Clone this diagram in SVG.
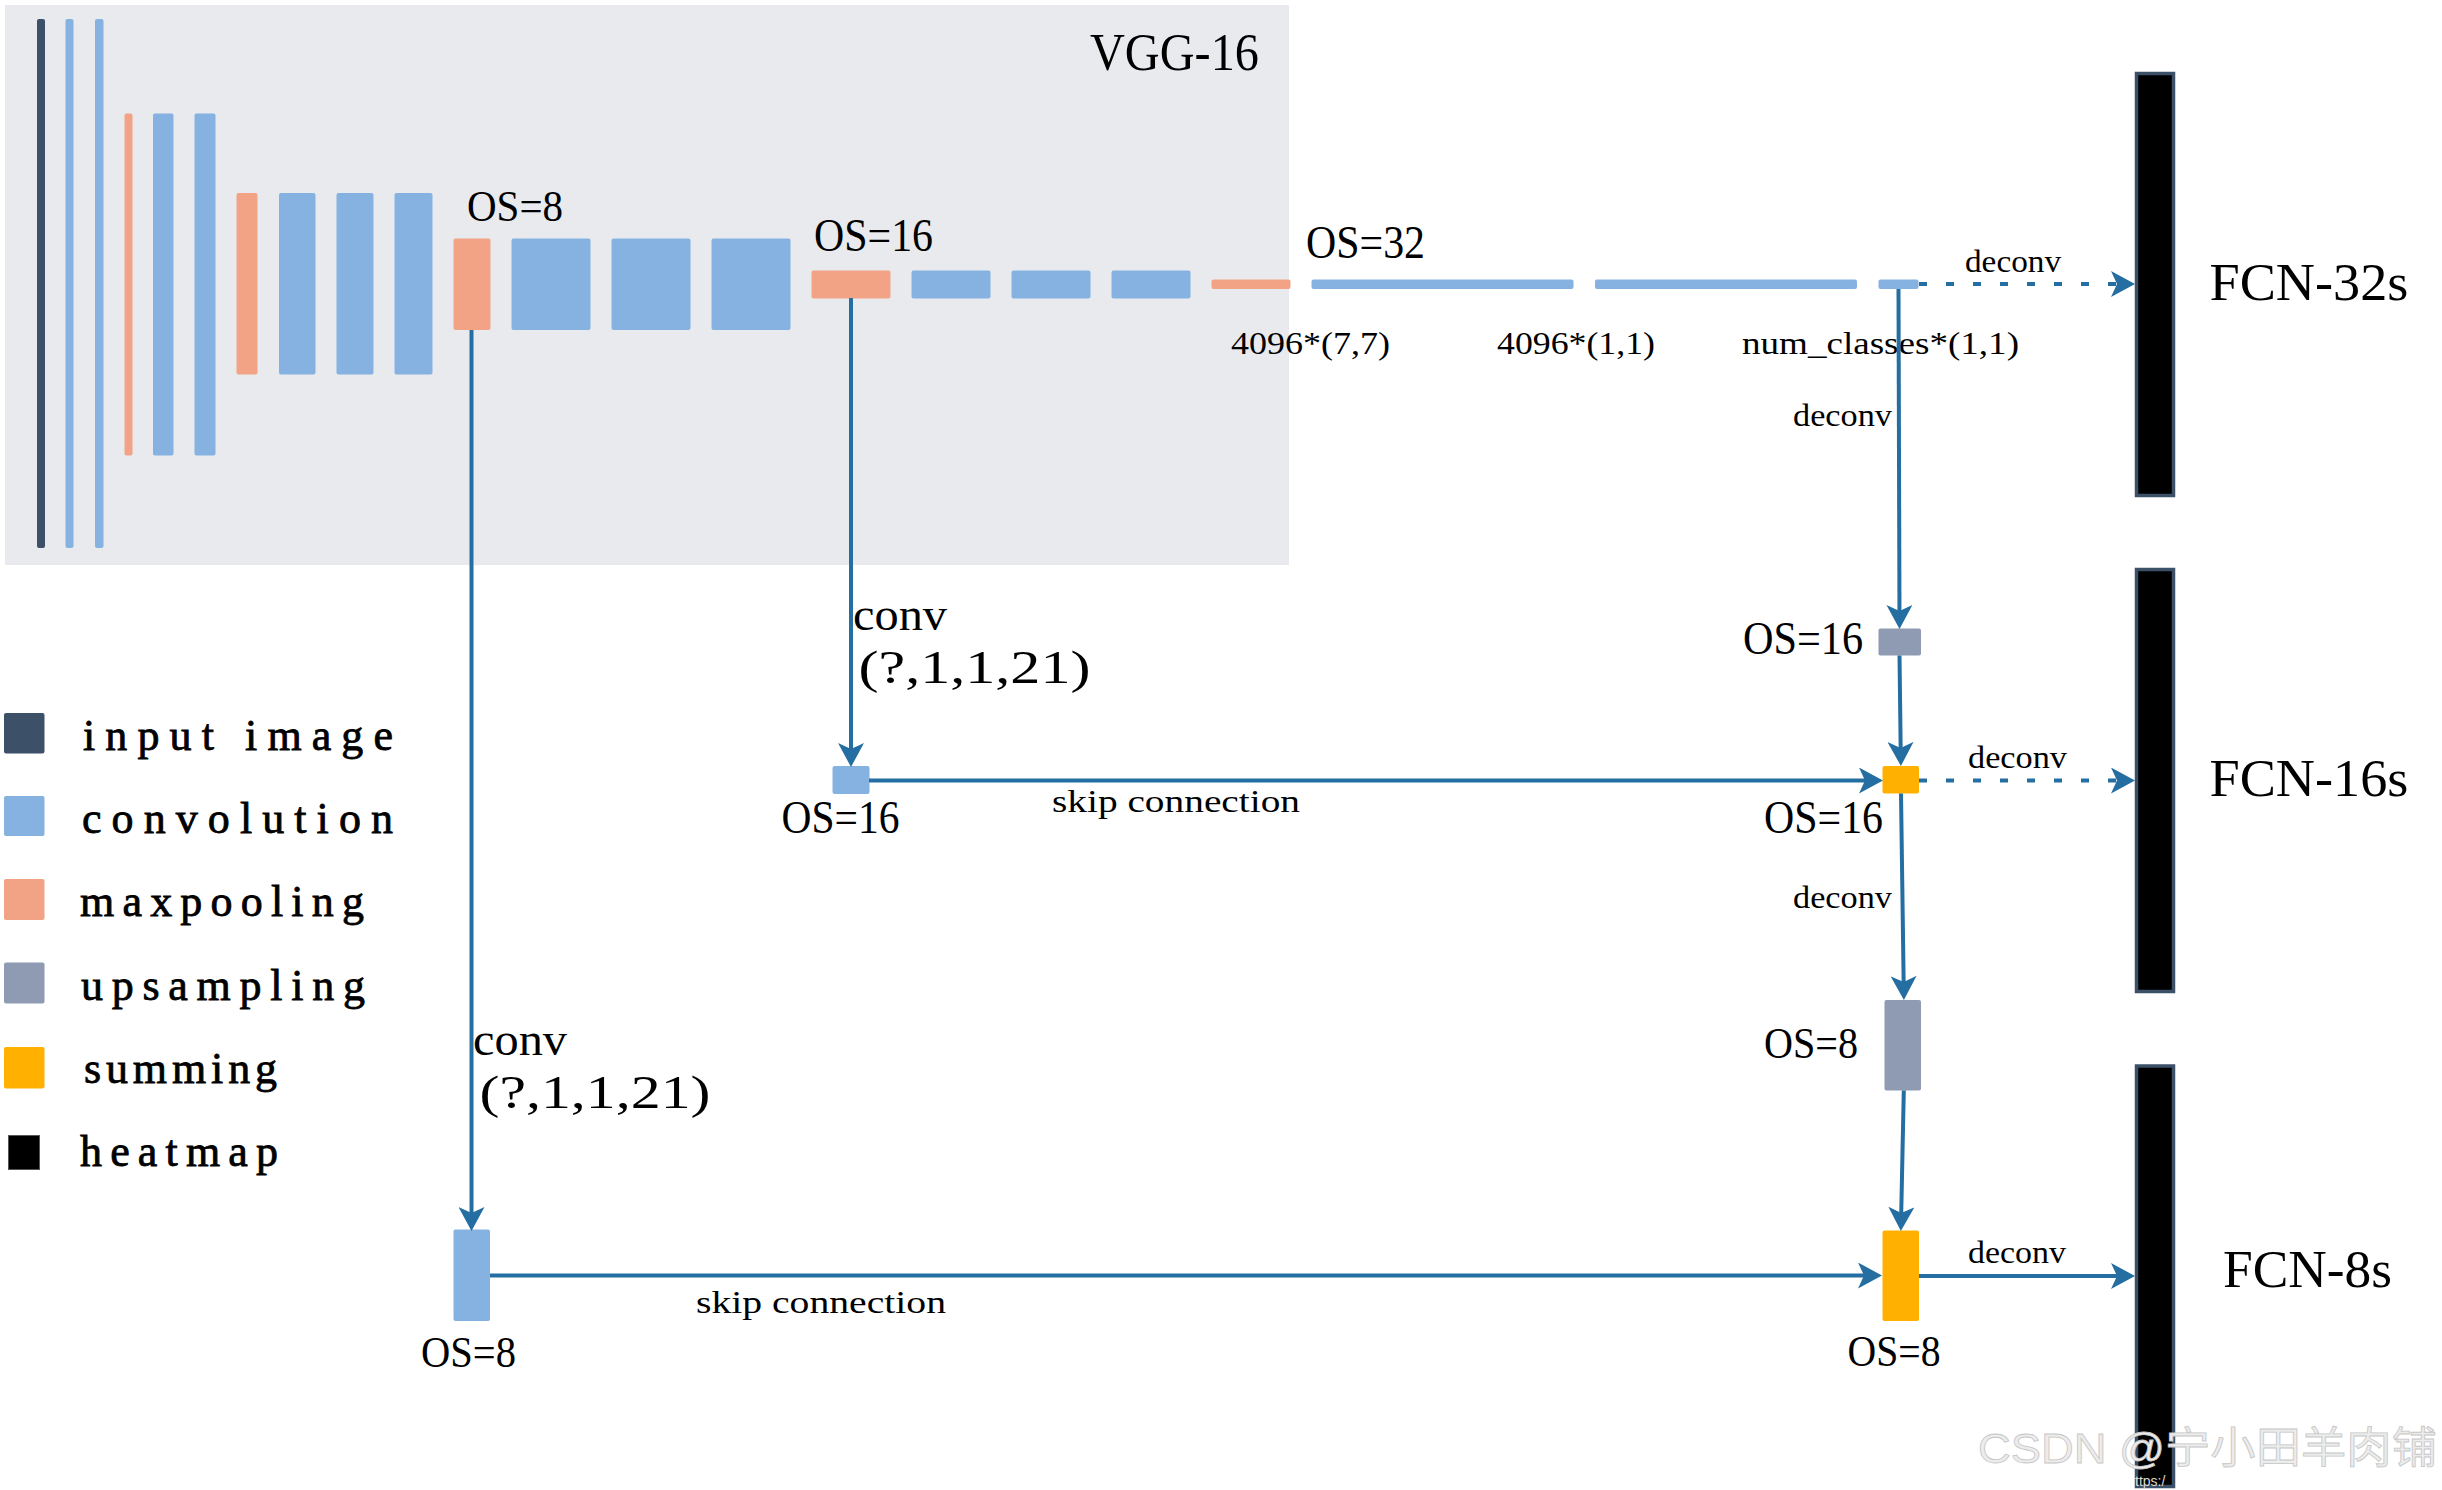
<svg xmlns="http://www.w3.org/2000/svg" width="2442" height="1490" viewBox="0 0 2442 1490">
  <defs>
    <style>
      .inp{fill:#3c5068}
      .conv{fill:#85b2e1}
      .pool{fill:#f2a385}
      .up{fill:#8e9bb2}
      .sum{fill:#ffb000}
      .heat{fill:#000;stroke:#3c5068;stroke-width:3.5}
      .t{font-family:"Liberation Serif","DejaVu Serif",serif;fill:#000}
      .leg{font-family:"Liberation Serif","DejaVu Serif",serif;fill:#000;font-size:44px;stroke:#000;stroke-width:0.8}
      .edge{fill:none;stroke:#246ea2;stroke-width:4;marker-end:url(#arrow)}
      .dot{stroke-dasharray:8 19}
      .wm{font-family:"Liberation Sans","Noto Sans CJK SC",sans-serif;fill:#ececec;stroke:#c6c6c6;stroke-width:0.8}
    </style>
    <marker id="arrow" markerUnits="userSpaceOnUse" markerWidth="24" markerHeight="26" refX="17" refY="13" orient="auto">
      <path d="M0,0 L24,13 L0,26 L6,13 Z" fill="#246ea2"/>
    </marker>
  </defs>

  <rect width="2442" height="1490" fill="#fff"/>

  <!-- backbone panel -->
  <g id="vgg16">
    <rect x="5" y="5" width="1284" height="560" fill="#e9eaee"/>
    <text class="t" x="1090" y="70" font-size="52" textLength="169" lengthAdjust="spacingAndGlyphs">VGG-16</text>
    <rect id="input" class="inp" x="37" y="19" width="8" height="529" rx="2"/>
    <rect id="conv1_1" class="conv" x="65.5" y="19" width="8" height="529" rx="2"/>
    <rect id="conv1_2" class="conv" x="95" y="19" width="8.5" height="529" rx="2"/>
    <rect id="pool1" class="pool" x="124.5" y="113.5" width="8" height="342" rx="2"/>
    <rect id="conv2_1" class="conv" x="153" y="113.5" width="20.5" height="342" rx="2"/>
    <rect id="conv2_2" class="conv" x="194.5" y="113.5" width="21" height="342" rx="2"/>
    <rect id="pool2" class="pool" x="236.5" y="193" width="21" height="181.5" rx="2"/>
    <rect id="conv3_1" class="conv" x="279" y="193" width="36.5" height="181.5" rx="2"/>
    <rect id="conv3_2" class="conv" x="336.5" y="193" width="37" height="181.5" rx="2"/>
    <rect id="conv3_3" class="conv" x="394.5" y="193" width="38" height="181.5" rx="2"/>
    <rect id="pool3" class="pool" x="453.5" y="238.5" width="37" height="91.5" rx="2"/>
    <rect id="conv4_1" class="conv" x="511.5" y="238.5" width="79" height="91.5" rx="2"/>
    <rect id="conv4_2" class="conv" x="611.5" y="238.5" width="79" height="91.5" rx="2"/>
    <rect id="conv4_3" class="conv" x="711.5" y="238.5" width="79" height="91.5" rx="2"/>
    <rect id="pool4" class="pool" x="811.5" y="270.5" width="79" height="28" rx="2"/>
    <rect id="conv5_1" class="conv" x="911.5" y="270.5" width="79" height="28" rx="2"/>
    <rect id="conv5_2" class="conv" x="1011.5" y="270.5" width="79" height="28" rx="2"/>
    <rect id="conv5_3" class="conv" x="1111.5" y="270.5" width="79" height="28" rx="2"/>
    <rect id="pool5" class="pool" x="1211.5" y="279.5" width="79" height="9.5" rx="2"/>
  </g>

  <g id="pool3-label">
    <text class="t" x="467" y="221" font-size="45" textLength="96" lengthAdjust="spacingAndGlyphs">OS=8</text>
  </g>
  <g id="pool4-label">
    <text class="t" x="814" y="250.5" font-size="46" textLength="119" lengthAdjust="spacingAndGlyphs">OS=16</text>
  </g>

  <!-- fully convolutional head -->
  <g id="fc6">
    <rect class="conv" x="1311.5" y="279.5" width="262" height="9.5" rx="2"/>
    <text class="t" x="1306" y="258" font-size="46" textLength="119" lengthAdjust="spacingAndGlyphs">OS=32</text>
    <text class="t" x="1231" y="354" font-size="31" textLength="159" lengthAdjust="spacingAndGlyphs">4096*(7,7)</text>
  </g>
  <g id="fc7">
    <rect class="conv" x="1595" y="279.5" width="262" height="9.5" rx="2"/>
    <text class="t" x="1497" y="354" font-size="31" textLength="158" lengthAdjust="spacingAndGlyphs">4096*(1,1)</text>
  </g>
  <g id="score-fr">
    <rect class="conv" x="1878.5" y="279.5" width="40" height="9.5" rx="2"/>
    <text class="t" x="1742" y="354" font-size="31" textLength="277" lengthAdjust="spacingAndGlyphs">num_classes*(1,1)</text>
  </g>

  <!-- skip branches -->
  <g id="score-pool4">
    <rect class="conv" x="832.5" y="766" width="37" height="28" rx="2"/>
    <text class="t" x="781.5" y="833" font-size="46" textLength="118" lengthAdjust="spacingAndGlyphs">OS=16</text>
  </g>
  <g id="score-pool3">
    <rect class="conv" x="453.5" y="1229.5" width="36.5" height="91.5" rx="2"/>
    <text class="t" x="421" y="1366.5" font-size="45" textLength="95" lengthAdjust="spacingAndGlyphs">OS=8</text>
  </g>

  <!-- decoder -->
  <g id="upscore2">
    <rect class="up" x="1878.5" y="628.5" width="42.5" height="27" rx="2"/>
    <text class="t" x="1743" y="653.5" font-size="46" textLength="120" lengthAdjust="spacingAndGlyphs">OS=16</text>
  </g>
  <g id="fuse-pool4">
    <rect class="sum" x="1882.5" y="766" width="36.5" height="27.5" rx="2"/>
    <text class="t" x="1764" y="833" font-size="46" textLength="119" lengthAdjust="spacingAndGlyphs">OS=16</text>
  </g>
  <g id="upscore-pool4">
    <rect class="up" x="1884.5" y="1000" width="36.5" height="90.5" rx="2"/>
    <text class="t" x="1764" y="1058" font-size="45" textLength="94" lengthAdjust="spacingAndGlyphs">OS=8</text>
  </g>
  <g id="fuse-pool3">
    <rect class="sum" x="1882.5" y="1230.5" width="36.5" height="90.5" rx="2"/>
    <text class="t" x="1847.5" y="1366" font-size="45" textLength="93" lengthAdjust="spacingAndGlyphs">OS=8</text>
  </g>

  <!-- output heatmaps -->
  <g id="fcn32s">
    <rect class="heat" x="2136.5" y="73.5" width="37" height="422"/>
    <text class="t" x="2209.5" y="300" font-size="52" textLength="199" lengthAdjust="spacingAndGlyphs">FCN-32s</text>
  </g>
  <g id="fcn16s">
    <rect class="heat" x="2136.5" y="569.5" width="37" height="422"/>
    <text class="t" x="2209.5" y="795.5" font-size="52" textLength="199" lengthAdjust="spacingAndGlyphs">FCN-16s</text>
  </g>
  <g id="fcn8s">
    <rect class="heat" x="2136.5" y="1066" width="37" height="420.5"/>
    <text class="t" x="2223" y="1287" font-size="52" textLength="169" lengthAdjust="spacingAndGlyphs">FCN-8s</text>
  </g>

  <!-- connectors -->
  <g id="connectors">
    <line class="edge" x1="471.5" y1="330" x2="471.5" y2="1224"/>
    <line class="edge" x1="490" y1="1275.5" x2="1875" y2="1275.5"/>
    <line class="edge" x1="851" y1="298" x2="851" y2="760"/>
    <line class="edge" x1="869" y1="780.5" x2="1876" y2="780.5"/>
    <line class="edge dot" x1="1919" y1="284" x2="2128" y2="284"/>
    <line class="edge" x1="1898.5" y1="289" x2="1899.5" y2="622"/>
    <line class="edge" x1="1899.5" y1="655.5" x2="1900.8" y2="759"/>
    <line class="edge dot" x1="1919" y1="780.5" x2="2128" y2="780.5"/>
    <line class="edge" x1="1901" y1="793.5" x2="1903.8" y2="993"/>
    <line class="edge" x1="1903.8" y1="1090.5" x2="1901" y2="1224"/>
    <line class="edge" x1="1919" y1="1276" x2="2128" y2="1276"/>

    <text class="t" x="1965" y="272" font-size="32" textLength="96" lengthAdjust="spacingAndGlyphs">deconv</text>
    <text class="t" x="1793" y="425.5" font-size="32" textLength="99" lengthAdjust="spacingAndGlyphs">deconv</text>
    <text class="t" x="1968" y="767.5" font-size="32" textLength="99" lengthAdjust="spacingAndGlyphs">deconv</text>
    <text class="t" x="1793" y="908" font-size="32" textLength="99" lengthAdjust="spacingAndGlyphs">deconv</text>
    <text class="t" x="1968" y="1262.5" font-size="32" textLength="98" lengthAdjust="spacingAndGlyphs">deconv</text>

    <text class="t" x="853" y="630" font-size="46" textLength="94" lengthAdjust="spacingAndGlyphs">conv</text>
    <text class="t" x="858.5" y="683" font-size="46" textLength="232" lengthAdjust="spacingAndGlyphs">(?,1,1,21)</text>
    <text class="t" x="1052" y="812" font-size="31" textLength="248" lengthAdjust="spacingAndGlyphs">skip connection</text>

    <text class="t" x="473" y="1055" font-size="46" textLength="94" lengthAdjust="spacingAndGlyphs">conv</text>
    <text class="t" x="479.5" y="1108" font-size="46" textLength="231" lengthAdjust="spacingAndGlyphs">(?,1,1,21)</text>
    <text class="t" x="696" y="1312.5" font-size="31" textLength="250" lengthAdjust="spacingAndGlyphs">skip connection</text>
  </g>

  <!-- legend -->
  <g id="legend">
    <rect class="inp" x="4" y="713" width="40.5" height="40.5" rx="2"/>
    <text class="leg" x="83" y="750" textLength="310" lengthAdjust="spacing">input image</text>
    <rect class="conv" x="4" y="796" width="40.5" height="40" rx="2"/>
    <text class="leg" x="82" y="833" textLength="311" lengthAdjust="spacing">convolution</text>
    <rect class="pool" x="4" y="879" width="40.5" height="41" rx="2"/>
    <text class="leg" x="80" y="916" textLength="284" lengthAdjust="spacing">maxpooling</text>
    <rect class="up" x="4" y="962.5" width="40.5" height="41" rx="2"/>
    <text class="leg" x="81" y="1000" textLength="284" lengthAdjust="spacing">upsampling</text>
    <rect class="sum" x="4" y="1047" width="40.5" height="41.5" rx="2"/>
    <text class="leg" x="84" y="1082.5" textLength="193" lengthAdjust="spacing">summing</text>
    <rect x="8.5" y="1135.5" width="31" height="34" fill="#000" stroke="#555" stroke-width="1"/>
    <text class="leg" x="80" y="1166" textLength="198" lengthAdjust="spacing">heatmap</text>
  </g>

  <!-- site mark -->
  <g id="watermark">
    <text class="wm" x="1978" y="1463" font-size="43" textLength="459" lengthAdjust="spacingAndGlyphs">CSDN @宁小田羊肉铺</text>
    <text x="2135" y="1486" font-family="Liberation Sans, sans-serif" font-size="14" fill="#d8d8d8">ttps:/</text>
  </g>
</svg>
